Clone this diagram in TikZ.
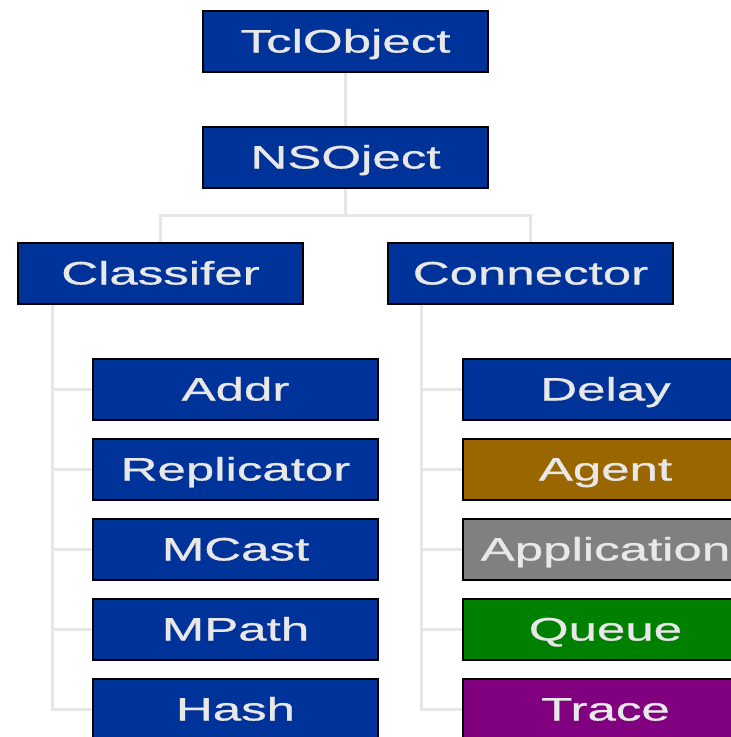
\documentclass[tikz,border=0pt]{standalone}
\usepackage{fontspec}
\setmainfont{Liberation Sans}
\newfontfamily\labelfont[FakeBold=0.6]{Liberation Sans}
\usetikzlibrary{backgrounds}
\definecolor{boxblue}{HTML}{003399}
\definecolor{boxbrown}{HTML}{996600}
\definecolor{boxgray}{HTML}{808080}
\definecolor{boxgreen}{HTML}{008000}
\definecolor{boxpurple}{HTML}{800080}
\definecolor{linkgray}{HTML}{E6E6E6}
\definecolor{labelgray}{HTML}{E8E8E8}
\newcommand{\widelabel}[1]{\scalebox{1.57}[1]{#1}}
\tikzset{
  classbox/.style={draw=black, line width=2.5pt, fill=boxblue,
    minimum width=285pt, minimum height=61pt, inner sep=0pt,
    text=labelgray, font=\labelfont\fontsize{32.5}{36}\selectfont,
    text height=24pt, text depth=2pt},
  link/.style={draw=linkgray, line width=3pt}
}
\begin{document}
\begin{tikzpicture}[x=1pt,y=1pt]
\useasboundingbox (0,0) rectangle (731,-737);
\clip (0,0) rectangle (731,-737);

% class boxes
\node[classbox] (tcl) at (345.5,-41.5) {\widelabel{TclObject}};
\node[classbox] (ns)  at (345.5,-157.5) {\widelabel{NSOject}};
\node[classbox] (cls) at (160.5,-273.5) {\widelabel{Classifer}};
\node[classbox] (con) at (530.5,-273.5) {\widelabel{Connector}};

\node[classbox] (addr) at (235.5,-389.5) {\widelabel{Addr}};
\node[classbox] (repl) at (235.5,-469.5) {\widelabel{Replicator}};
\node[classbox] (mcast) at (235.5,-549.5) {\widelabel{MCast}};
\node[classbox] (mpath) at (235.5,-629.5) {\widelabel{MPath}};
\node[classbox] (hash) at (235.5,-709.5) {\widelabel{Hash}};

\node[classbox] (delay) at (605.5,-389.5) {\widelabel{Delay}};
\node[classbox, fill=boxbrown] (agent) at (605.5,-469.5) {\widelabel{Agent}};
\node[classbox, fill=boxgray] (app) at (605.5,-549.5) {\widelabel{Application}};
\node[classbox, fill=boxgreen] (queue) at (605.5,-629.5) {\widelabel{Queue}};
\node[classbox, fill=boxpurple] (trace) at (605.5,-709.5) {\widelabel{Trace}};

% spines of the two subtrees and the split level below NSOject
\coordinate (lspine) at (52,0);
\coordinate (rspine) at (421.5,0);
\coordinate (split) at (0,-215);

% connectors, drawn behind the boxes
\begin{scope}[on background layer]
  \fill[white] (0,0) rectangle (731,-737);
  \draw[link] (tcl.south) -- (ns.north);
  \draw[link] (ns.south) -- (ns.south |- split);
  \draw[link] (cls.north) -- (cls.north |- split) -- (con.north |- split) -- (con.north);

  \draw[link] (cls.south -| lspine) -- (lspine |- hash.west) -- (hash.west);
  \foreach \c in {addr,repl,mcast,mpath}
    \draw[link] (lspine |- \c.west) -- (\c.west);

  \draw[link] (con.south -| rspine) -- (rspine |- trace.west) -- (trace.west);
  \foreach \c in {delay,agent,app,queue}
    \draw[link] (rspine |- \c.west) -- (\c.west);
\end{scope}
\end{tikzpicture}
\end{document}
